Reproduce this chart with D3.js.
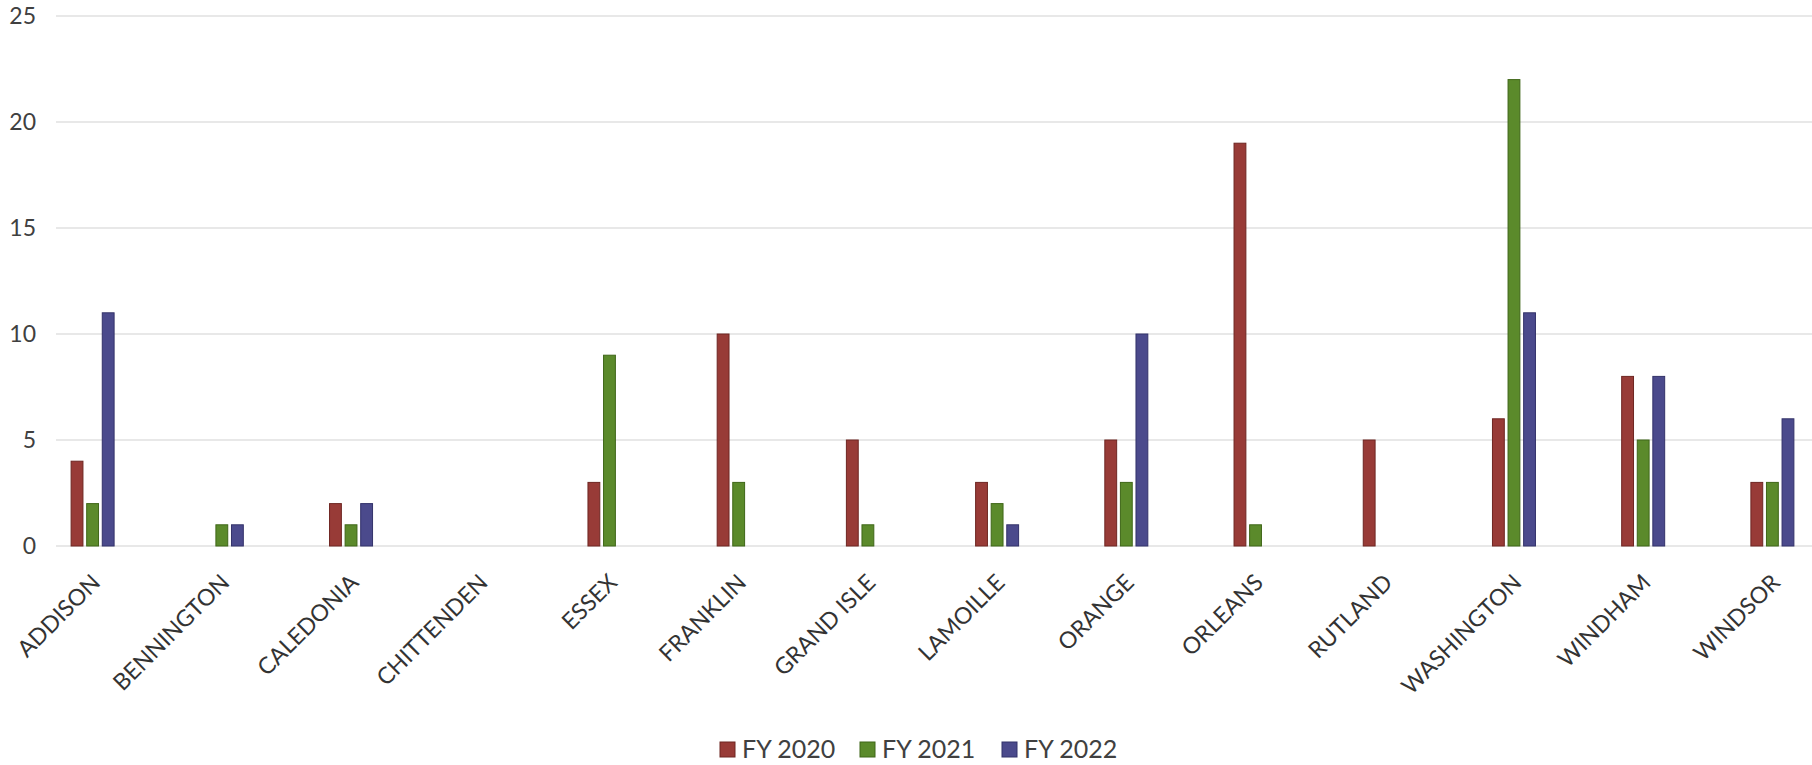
<!DOCTYPE html>
<html>
<head>
<meta charset="utf-8">
<script src="https://cdn.jsdelivr.net/npm/d3@7"></script>
<style>
  body { margin: 0; background: #fff; }
  svg { display: block; }
  text { font-family: Lato, "Open Sans", sans-serif; }
</style>
</head>
<body>
<svg width="1812" height="765"></svg>
<script>
// data
var counties = ["ADDISON", "BENNINGTON", "CALEDONIA", "CHITTENDEN", "ESSEX", "FRANKLIN",
  "GRAND ISLE", "LAMOILLE", "ORANGE", "ORLEANS", "RUTLAND", "WASHINGTON", "WINDHAM", "WINDSOR"];
var years = ["FY 2020", "FY 2021", "FY 2022"];
var fy2020 = [4, 0, 2, 0, 3, 10, 5, 3, 5, 19, 5, 6, 8, 3];
var fy2021 = [2, 1, 1, 0, 9, 3, 1, 2, 3, 1, 0, 22, 5, 3];
var fy2022 = [11, 1, 2, 0, 0, 0, 0, 1, 10, 0, 0, 11, 8, 6];
var yTicks = [0, 5, 10, 15, 20, 25];
var colors = ["#983b37", "#5b8a2b", "#4b4a8c"];
var strokes = ["#6e2622", "#3f6618", "#33326a"];

var series = [fy2020, fy2021, fy2022];

var svg = d3.select("svg"),
  width = +svg.attr("width"),
  height = +svg.attr("height");

var x = d3.scaleBand().domain(counties).range([28, 1837]).padding(0);
var y = d3.scaleLinear().domain([0, 25]).range([546, 16]);

// inner band for the three years
var xs = d3.scaleBand().domain(years).range([-21.5, 21.5]).paddingInner(0.24);

// grid lines
svg.append("g")
  .selectAll("line")
  .data(yTicks)
  .enter().append("line")
  .attr("x1", 56)
  .attr("x2", width)
  .attr("y1", d => y(d))
  .attr("y2", d => y(d))
  .attr("stroke", "#e8e8e8")
  .attr("stroke-width", 2);

// y axis, labels only
var yAxis = svg.append("g")
  .attr("transform", "translate(36,0)")
  .call(d3.axisLeft(y).tickValues(yTicks).tickSize(0).tickPadding(0));
yAxis.select(".domain").remove();
yAxis.selectAll("text")
  .attr("font-size", 23)
  .attr("fill", "#404040");

// bars
var groups = svg.append("g")
  .selectAll("g")
  .data(counties)
  .enter().append("g")
  .attr("transform", d => `translate(${x(d) + x.bandwidth() / 2},0)`);

groups.selectAll("rect")
  .data(function (d, i) {
    return years.map((yr, k) => ({ year: yr, k: k, value: series[k][i] }));
  })
  .enter().filter(d => d.value > 0).append("rect")
  .attr("x", d => xs(d.year))
  .attr("width", xs.bandwidth())
  .attr("y", d => y(d.value))
  .attr("height", d => y(0) - y(d.value))
  .attr("fill", d => colors[d.k])
  .attr("stroke", d => strokes[d.k])
  .attr("stroke-width", 1);

// x axis labels, rotated
var xAxis = svg.append("g")
  .attr("transform", `translate(0,${y(0)})`)
  .call(d3.axisBottom(x).tickSize(0).tickPadding(0));
xAxis.select(".domain").remove();
xAxis.selectAll("text")
  .attr("font-size", 23)
  .attr("fill", "#333")
  .attr("text-anchor", "end")
  .attr("dy", 0)
  .attr("transform", "translate(9,38) rotate(-45)");

// legend
var legend = svg.append("g").attr("transform", "translate(720,750)");
var lx = [0, 140, 282];
var item = legend.selectAll("g")
  .data(years)
  .enter().append("g")
  .attr("transform", (d, i) => `translate(${lx[i]},0)`);
item.append("rect")
  .attr("x", 0)
  .attr("y", -8)
  .attr("width", 15)
  .attr("height", 15)
  .attr("fill", (d, i) => colors[i])
  .attr("stroke", (d, i) => strokes[i]);
item.append("text")
  .attr("x", 22)
  .attr("y", 8)
  .attr("font-size", 25)
  .attr("fill", "#404040")
  .text(d => d);
</script>
</body>
</html>
